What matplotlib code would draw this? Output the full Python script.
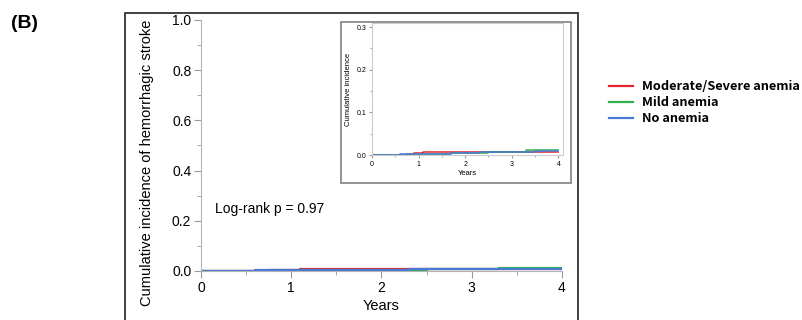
import numpy as np
import matplotlib
matplotlib.use('Agg')
import matplotlib.pyplot as plt
from matplotlib.patches import Rectangle
from matplotlib.ticker import MultipleLocator

# ── data ──────────────────────────────────────────────────────────────────────
groups = ['Moderate/Severe anemia', 'Mild anemia', 'No anemia']
colors = ['#e3262e', '#2fb24e', '#4a78d6']

t_mod = [0.0, 0.18, 0.75, 0.90, 1.10, 2.00, 4.00]
y_mod = [0.000, 0.001, 0.003, 0.005, 0.008, 0.008, 0.008]

t_mild = [0.0, 0.50, 1.00, 1.50, 1.70, 2.00, 2.50, 3.00, 3.30, 4.00]
y_mild = [0.000, 0.001, 0.002, 0.003, 0.004, 0.005, 0.007, 0.008, 0.011, 0.011]

t_no = [0.0, 0.20, 0.60, 1.00, 1.70, 2.30, 3.00, 3.50, 4.00]
y_no = [0.000, 0.001, 0.002, 0.003, 0.005, 0.007, 0.008, 0.009, 0.009]

curves = [(t_mod, y_mod), (t_mild, y_mild), (t_no, y_no)]
logrank_text = 'Log-rank p = 0.97'

W, H = 803, 320
fig = plt.figure(figsize=(W / 100, H / 100), dpi=100)
plt.rcParams['font.family'] = ['Liberation Sans', 'DejaVu Sans']

def px(x0, y0, x1, y1):
    # pixel box (top-left origin) -> figure fraction rect
    return [x0 / W, 1 - y1 / H, (x1 - x0) / W, (y1 - y0) / H]

SPINE = '#b4b4b4'
TICK = '#9a9a9a'

# outer frame (bottom runs off the figure)
fig.patches.append(Rectangle((125 / W, -0.2), (578 - 125) / W, 1.2 - 13 / H,
                             transform=fig.transFigure, fill=False,
                             ec='#333333', lw=1.3))

# ── main axes ────────────────────────────────────────────────────────────────
ax = fig.add_axes(px(201, 20, 562, 271))
for (t, y), c in zip(curves, colors):
    ax.step(t, y, where='post', color=c, lw=1.6)
ax.set_xlim(0, 4)
ax.set_ylim(0, 1.0)
ax.xaxis.set_major_locator(MultipleLocator(1))
ax.xaxis.set_minor_locator(MultipleLocator(0.5))
ax.yaxis.set_major_locator(MultipleLocator(0.2))
ax.yaxis.set_minor_locator(MultipleLocator(0.1))
ax.yaxis.set_major_formatter(matplotlib.ticker.FormatStrFormatter('%.1f'))
for s in ['top', 'right']:
    ax.spines[s].set_visible(False)
for s in ['left', 'bottom']:
    ax.spines[s].set_color(SPINE)
ax.tick_params(which='major', length=5, color=TICK, labelsize=10, pad=2)
ax.tick_params(which='minor', length=3, color=TICK)
ax.set_xlabel('Years', fontsize=10.5, labelpad=3)
ax.text(0.15, 0.23, logrank_text, fontsize=10)

fig.text(147 / W, 1 - 20 / H, 'Cumulative incidence of hemorrhagic stroke',
         rotation=90, ha='center', va='top', fontsize=10.5)
fig.text(11 / W, 1 - 23 / H, '(B)', fontsize=14, fontweight='bold',
         ha='left', va='center')

# ── inset ────────────────────────────────────────────────────────────────────
fig.patches.append(Rectangle((341 / W, 1 - 183 / H), (571 - 341) / W, (183 - 22) / H,
                             transform=fig.transFigure, fill=False,
                             ec='#8a8a8a', lw=1.3, zorder=3))
ins = fig.add_axes(px(372, 23.3, 563, 155))
for (t, y), c in zip(curves, colors):
    ins.step(t, y, where='post', color=c, lw=1.1)
ins.set_xlim(0, 4.1)
ins.set_ylim(0, 0.309)
ins.xaxis.set_major_locator(MultipleLocator(1))
ins.xaxis.set_minor_locator(MultipleLocator(0.5))
ins.yaxis.set_major_locator(MultipleLocator(0.1))
ins.yaxis.set_minor_locator(MultipleLocator(0.05))
ins.yaxis.set_major_formatter(matplotlib.ticker.FormatStrFormatter('%.1f'))
for s in ins.spines.values():
    s.set_color('#cccccc')
    s.set_linewidth(0.8)
ins.tick_params(which='major', length=2.5, color=TICK, labelsize=5, pad=1.5)
ins.tick_params(which='minor', length=1.5, color=TICK)
ins.set_xlabel('Years', fontsize=5.5, labelpad=2)
ins.set_ylabel('Cumulative incidence', fontsize=5.5, labelpad=3)

# ── legend ───────────────────────────────────────────────────────────────────
handles = [plt.Line2D([], [], color=c, lw=1.6) for c in colors]
fig.legend(handles, groups, loc='upper left', bbox_to_anchor=(609 / W, 1 - 80 / H),
           frameon=False, handlelength=1.85, handletextpad=0.75, labelspacing=0.25,
           borderaxespad=0, borderpad=0,
           prop={'family': ['Noto Sans CJK JP', 'DejaVu Sans'], 'weight': 'bold', 'size': 9.2})

fig.savefig('out.png', dpi=100)
